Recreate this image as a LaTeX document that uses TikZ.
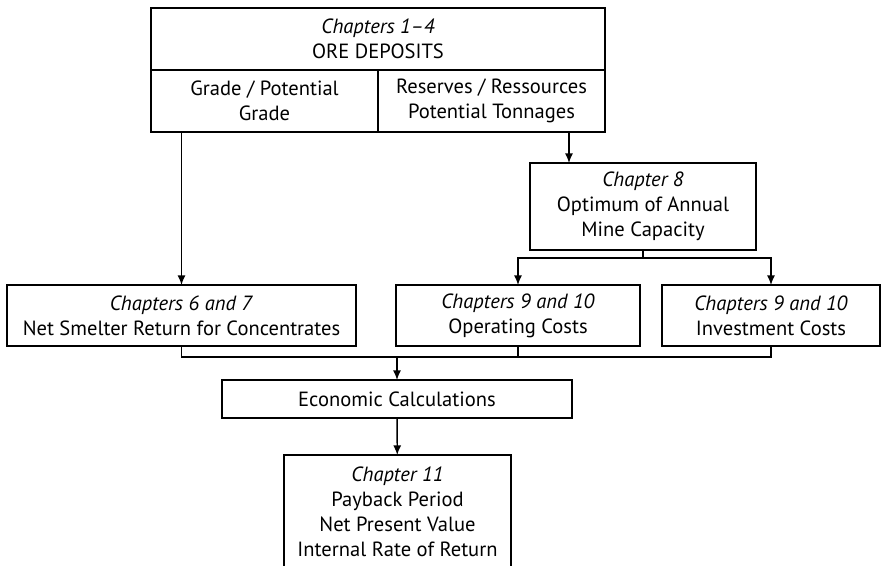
\documentclass[tikz,border=0pt]{standalone}
\usepackage{fontspec}
\setmainfont{PT Sans}
\usetikzlibrary{arrows.meta,calc}

\tikzset{
  box/.style={draw, line width=0.8pt, inner sep=0pt, outer sep=0pt,
              align=center, font=\fontsize{11.7}{14.2}\selectfont},
  arr/.style={line width=0.8pt, -{Latex[length=5.5pt,width=4.6pt]}},
  link/.style={line width=0.8pt}
}

\begin{document}
\begin{tikzpicture}[x=0.02cm,y=-0.02cm]
%linee guida
%\foreach \x in {0,100,...,800}
%   \draw [help lines] (\x,0) node [above,%
%          font=\footnotesize] {$\x$} -- (\x,565);

\useasboundingbox (0,0) rectangle (885,565);
\clip (0,0) rectangle (885,565);

% ore deposits
\node[box, minimum width=9.08cm, minimum height=1.24cm] (deposits) at (378,39)
     {\textit{Chapters 1--4}\\ORE DEPOSITS};
\node[box, minimum width=4.54cm, minimum height=1.24cm] (grade) at (264.5,101)
     {Grade / Potential\\Grade};
\node[box, minimum width=4.54cm, minimum height=1.24cm] (reserves) at (491.5,101)
     {Reserves / Ressources\\Potential Tonnages};

% capacity
\node[box, minimum width=4.52cm, minimum height=1.74cm] (capacity) at (643,206.5)
     {\textit{Chapter 8}\\Optimum of Annual\\Mine Capacity};

% middle row
\node[box, minimum width=6.98cm, minimum height=1.22cm] (smelter) at (181.5,315.5)
     {\textit{Chapters 6 and 7}\\Net Smelter Return for Concentrates};
\node[box, minimum width=4.88cm, minimum height=1.22cm] (opcost) at (518,315.5)
     {\textit{Chapters 9 and 10}\\Operating Costs};
\node[box, minimum width=4.36cm, minimum height=1.22cm] (invcost) at (771,315.5)
     {\textit{Chapters 9 and 10}\\Investment Costs};

% economics
\node[box, minimum width=7.0cm, minimum height=0.76cm] (econ) at (397,399)
     {Economic Calculations};
\node[box, minimum width=4.54cm, minimum height=2.28cm] (result) at (397.5,512)
     {\textit{Chapter 11}\\Payback Period\\Net Present Value\\Internal Rate of Return};

%connections
\coordinate (tonnage) at (569,0);
\draw[arr] (grade.south -| smelter) -- (smelter);
\draw[arr] (reserves.south -| tonnage) -- (capacity.north -| tonnage);

\draw[link] (capacity.south) -- ++(0,8) coordinate (fork);
\draw[arr] (fork) -| (opcost);
\draw[arr] (fork) -| (invcost);

\draw[link] (smelter.south) -- ++(0,11) coordinate (join) -| (invcost.south);
\draw[link] (opcost.south) -- (opcost.south |- join);
\draw[arr] (join -| econ) -- (econ);
\draw[arr] (econ) -- (result);
\end{tikzpicture}
\end{document}
